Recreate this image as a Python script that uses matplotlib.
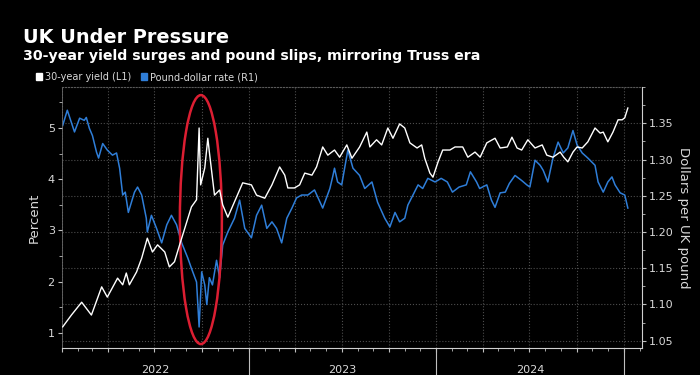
import pandas as pd
import matplotlib
matplotlib.use('Agg')
import matplotlib.pyplot as plt
import matplotlib.dates as mdates
from matplotlib.patches import Ellipse, Patch
from matplotlib.ticker import MultipleLocator

plt.rcParams['font.family'] = 'DejaVu Sans'

# 30-year gilt yield (left axis, percent)
yield_dates = ['2022-01-03', '2022-01-20', '2022-02-09', '2022-02-28', '2022-03-20', '2022-03-31',
               '2022-04-20', '2022-04-30', '2022-05-07', '2022-05-13', '2022-05-27', '2022-06-06',
               '2022-06-17', '2022-06-27', '2022-07-07', '2022-07-21', '2022-07-30', '2022-08-09',
               '2022-08-19', '2022-09-02', '2022-09-11', '2022-09-21', '2022-09-26', '2022-09-29',
               '2022-10-07', '2022-10-13', '2022-10-16', '2022-10-26', '2022-11-05', '2022-11-11',
               '2022-11-21', '2022-12-04', '2022-12-20', '2023-01-06', '2023-01-16', '2023-02-01',
               '2023-02-15', '2023-03-02', '2023-03-12', '2023-03-18', '2023-03-31', '2023-04-10',
               '2023-04-20', '2023-05-04', '2023-05-13', '2023-05-25', '2023-06-04', '2023-06-17',
               '2023-06-27', '2023-07-11', '2023-07-21', '2023-08-05', '2023-08-19', '2023-08-25',
               '2023-09-07', '2023-09-17', '2023-09-29', '2023-10-09', '2023-10-22', '2023-11-01',
               '2023-11-11', '2023-11-25', '2023-12-04', '2023-12-10', '2023-12-20', '2023-12-26',
               '2024-01-05', '2024-01-14', '2024-01-28', '2024-02-07', '2024-02-22', '2024-03-03',
               '2024-03-17', '2024-03-27', '2024-04-09', '2024-04-25', '2024-05-05', '2024-05-19',
               '2024-05-28', '2024-06-07', '2024-06-16', '2024-06-28', '2024-07-12', '2024-07-26',
               '2024-08-04', '2024-08-16', '2024-08-30', '2024-09-06', '2024-09-14', '2024-09-24',
               '2024-10-02', '2024-10-12', '2024-10-23', '2024-11-06', '2024-11-16', '2024-11-22',
               '2024-12-01', '2024-12-11', '2024-12-21', '2024-12-29', '2025-01-03', '2025-01-09']
yield_vals = [1.12, 1.35, 1.60, 1.35, 1.90, 1.70,
              2.07, 1.94, 2.17, 1.94, 2.19, 2.46,
              2.85, 2.58, 2.72, 2.58, 2.29, 2.39,
              2.72, 3.17, 3.46, 3.60, 5.00, 3.89,
              4.22, 4.80, 4.53, 3.69, 3.79, 3.50,
              3.26, 3.56, 3.93, 3.89, 3.69, 3.63,
              3.89, 4.24, 4.08, 3.83, 3.83, 3.89,
              4.12, 4.08, 4.24, 4.63, 4.47, 4.57,
              4.43, 4.67, 4.41, 4.63, 4.92, 4.63,
              4.77, 4.67, 5.00, 4.80, 5.08, 5.00,
              4.71, 4.61, 4.67, 4.41, 4.12, 4.04,
              4.34, 4.57, 4.57, 4.63, 4.63, 4.43,
              4.53, 4.43, 4.71, 4.80, 4.61, 4.63,
              4.82, 4.61, 4.57, 4.77, 4.61, 4.67,
              4.47, 4.43, 4.53, 4.43, 4.34, 4.53,
              4.63, 4.61, 4.73, 5.00, 4.90, 4.92,
              4.73, 4.92, 5.16, 5.16, 5.20, 5.39]

# pound-dollar rate (right axis)
gbp_dates = ['2022-01-03', '2022-01-12', '2022-01-26', '2022-02-05', '2022-02-14', '2022-02-18',
             '2022-02-24', '2022-03-02', '2022-03-10', '2022-03-14', '2022-03-22', '2022-03-31',
             '2022-04-10', '2022-04-18', '2022-04-24', '2022-04-30', '2022-05-05', '2022-05-11',
             '2022-05-23', '2022-05-29', '2022-06-06', '2022-06-15', '2022-06-17', '2022-06-25',
             '2022-07-05', '2022-07-15', '2022-07-25', '2022-08-03', '2022-08-13', '2022-08-23',
             '2022-09-04', '2022-09-11', '2022-09-21', '2022-09-26', '2022-10-01', '2022-10-07',
             '2022-10-11', '2022-10-16', '2022-10-22', '2022-10-30', '2022-11-05', '2022-11-11',
             '2022-11-21', '2022-12-04', '2022-12-14', '2022-12-24', '2023-01-06', '2023-01-16',
             '2023-01-26', '2023-02-05', '2023-02-15', '2023-02-24', '2023-03-06', '2023-03-16',
             '2023-03-26', '2023-04-04', '2023-04-14', '2023-04-26', '2023-05-09', '2023-05-25',
             '2023-06-08', '2023-06-14', '2023-06-17', '2023-06-23', '2023-07-01', '2023-07-13',
             '2023-07-23', '2023-08-05', '2023-08-15', '2023-08-29', '2023-09-09', '2023-09-23',
             '2023-10-03', '2023-10-13', '2023-10-22', '2023-11-01', '2023-11-07', '2023-11-17',
             '2023-11-27', '2023-12-06', '2023-12-16', '2023-12-30', '2024-01-11', '2024-01-23',
             '2024-02-02', '2024-02-15', '2024-02-29', '2024-03-08', '2024-03-20', '2024-03-26',
             '2024-04-09', '2024-04-18', '2024-04-25', '2024-05-05', '2024-05-15', '2024-05-23',
             '2024-06-03', '2024-06-16', '2024-06-26', '2024-07-02', '2024-07-12', '2024-07-22',
             '2024-07-28', '2024-08-06', '2024-08-16', '2024-08-26', '2024-09-05', '2024-09-14',
             '2024-09-24', '2024-10-02', '2024-10-12', '2024-10-23', '2024-11-06', '2024-11-12',
             '2024-11-22', '2024-12-01', '2024-12-09', '2024-12-15', '2024-12-25', '2025-01-03',
             '2025-01-09']
gbp_vals = [1.347, 1.368, 1.338, 1.357, 1.354, 1.358,
            1.343, 1.333, 1.310, 1.302, 1.322, 1.313,
            1.306, 1.309, 1.288, 1.251, 1.255, 1.227,
            1.255, 1.262, 1.251, 1.219, 1.200, 1.223,
            1.205, 1.185, 1.210, 1.223, 1.210, 1.185,
            1.164, 1.150, 1.131, 1.069, 1.145, 1.127,
            1.100, 1.137, 1.127, 1.161, 1.137, 1.182,
            1.200, 1.219, 1.244, 1.205, 1.192, 1.223,
            1.237, 1.205, 1.214, 1.205, 1.185, 1.219,
            1.233, 1.247, 1.251, 1.251, 1.258, 1.233,
            1.260, 1.278, 1.288, 1.269, 1.265, 1.313,
            1.288, 1.278, 1.260, 1.269, 1.241, 1.219,
            1.207, 1.227, 1.214, 1.219, 1.237, 1.251,
            1.265, 1.260, 1.274, 1.269, 1.274, 1.269,
            1.255, 1.262, 1.265, 1.283, 1.269, 1.260,
            1.265, 1.244, 1.234, 1.254, 1.255, 1.267,
            1.278, 1.271, 1.265, 1.262, 1.299, 1.292,
            1.285, 1.269, 1.302, 1.324, 1.309, 1.316,
            1.340, 1.320, 1.309, 1.302, 1.292, 1.269,
            1.255, 1.269, 1.276, 1.265, 1.254, 1.251,
            1.233]

years = ['2022', '2023', '2024']
year_edges = ['2023-01-01', '2024-01-01', '2025-01-01']
gbp_ticks = [1.05, 1.10, 1.15, 1.20, 1.25, 1.30, 1.35]
yield_ticks = [1, 2, 3, 4, 5]

blue = '#2f7ed8'
txt = '#d9d9d9'

fig = plt.figure(figsize=(7, 3.75), dpi=100, facecolor='black')
ax = fig.add_axes([0.0881, 0.072, 0.8286, 0.696])  # pound axis, ticks on right
ax.set_facecolor('black')
ax2 = ax.twinx()                                     # yield axis, ticks on left

ax.plot(pd.to_datetime(gbp_dates), gbp_vals, color=blue, lw=1.1)
ax2.plot(pd.to_datetime(yield_dates), yield_vals, color='white', lw=1.0)

ax.set_xlim(pd.Timestamp('2022-01-01'), pd.Timestamp('2025-02-05'))
ax.set_ylim(1.04, 1.40)
ax2.set_ylim(0.707, 5.80)

ax.yaxis.tick_right()
ax.yaxis.set_label_position('right')
ax2.yaxis.tick_left()
ax2.yaxis.set_label_position('left')

ax.set_yticks(gbp_ticks)
ax.set_yticklabels([f'{v:.2f}' for v in gbp_ticks])
ax.yaxis.set_minor_locator(MultipleLocator(0.025))
ax2.set_yticks(yield_ticks)
ax2.yaxis.set_minor_locator(MultipleLocator(0.5))

ax.xaxis.set_major_locator(mdates.MonthLocator(bymonth=[1, 4, 7, 10]))
ax.xaxis.set_minor_locator(mdates.MonthLocator())
ax.xaxis.set_major_formatter(plt.NullFormatter())

ax.grid(True, which='major', color='#4d4d4d', ls=':', lw=0.8)

for a in (ax, ax2):
    a.tick_params(which='both', colors='#bfbfbf', labelcolor=txt, labelsize=8, pad=2)
    a.tick_params(which='major', length=3)
    a.tick_params(which='minor', length=2)
    for s in a.spines.values():
        s.set_visible(False)

ax.spines['bottom'].set_visible(True)
ax.spines['bottom'].set_color('#cfcfcf')
ax.spines['right'].set_visible(True)
ax.spines['right'].set_color('#cfcfcf')
ax.spines['left'].set_visible(True)
ax.spines['left'].set_color('#6a6a6a')
ax.spines['left'].set_linewidth(0.6)
ax.spines['top'].set_visible(True)
ax.spines['top'].set_color('#5a5a5a')
ax.spines['top'].set_linestyle(':')

ax.set_ylabel('Dollars per UK pound', color=txt, fontsize=9.5, rotation=-90, labelpad=12)
ax2.set_ylabel('Percent', color=txt, fontsize=9.5, labelpad=5)

# year labels and dividers under the axis
xt = ax.get_xaxis_transform()
for y in years:
    ax.text(pd.Timestamp(y + '-07-02'), -0.086, y, transform=xt, ha='center', va='center',
            color=txt, fontsize=8)
for e in year_edges:
    ax.plot([pd.Timestamp(e)] * 2, [0, -0.103], transform=xt, clip_on=False, color='#bfbfbf', lw=0.8)

# Truss-era highlight
ax2.add_patch(Ellipse((0.240, 0.492), 0.0724, 0.954, transform=ax2.transAxes, fill=False,
                      ec='#dc1e32', lw=1.8, clip_on=False))

fig.text(23 / 700, 1 - 43 / 375, 'UK Under Pressure', color='white', fontsize=13.9,
         fontweight='bold', va='baseline')
fig.text(23 / 700, 1 - 60 / 375, '30-year yield surges and pound slips, mirroring Truss era',
         color='white', fontsize=10.15, fontweight='bold', va='baseline')

handles = [Patch(color='white', label='30-year yield (L1)'),
           Patch(color=blue, label='Pound-dollar rate (R1)')]
fig.legend(handles=handles, loc='center left', bbox_to_anchor=(36 / 700, 1 - 77 / 375), ncol=2,
           frameon=False, fontsize=7.0, handlelength=0.6, handleheight=0.6, handletextpad=0.3,
           columnspacing=1.05, labelcolor=txt, borderaxespad=0, borderpad=0)

fig.savefig('out.png', dpi=100, facecolor='black')
